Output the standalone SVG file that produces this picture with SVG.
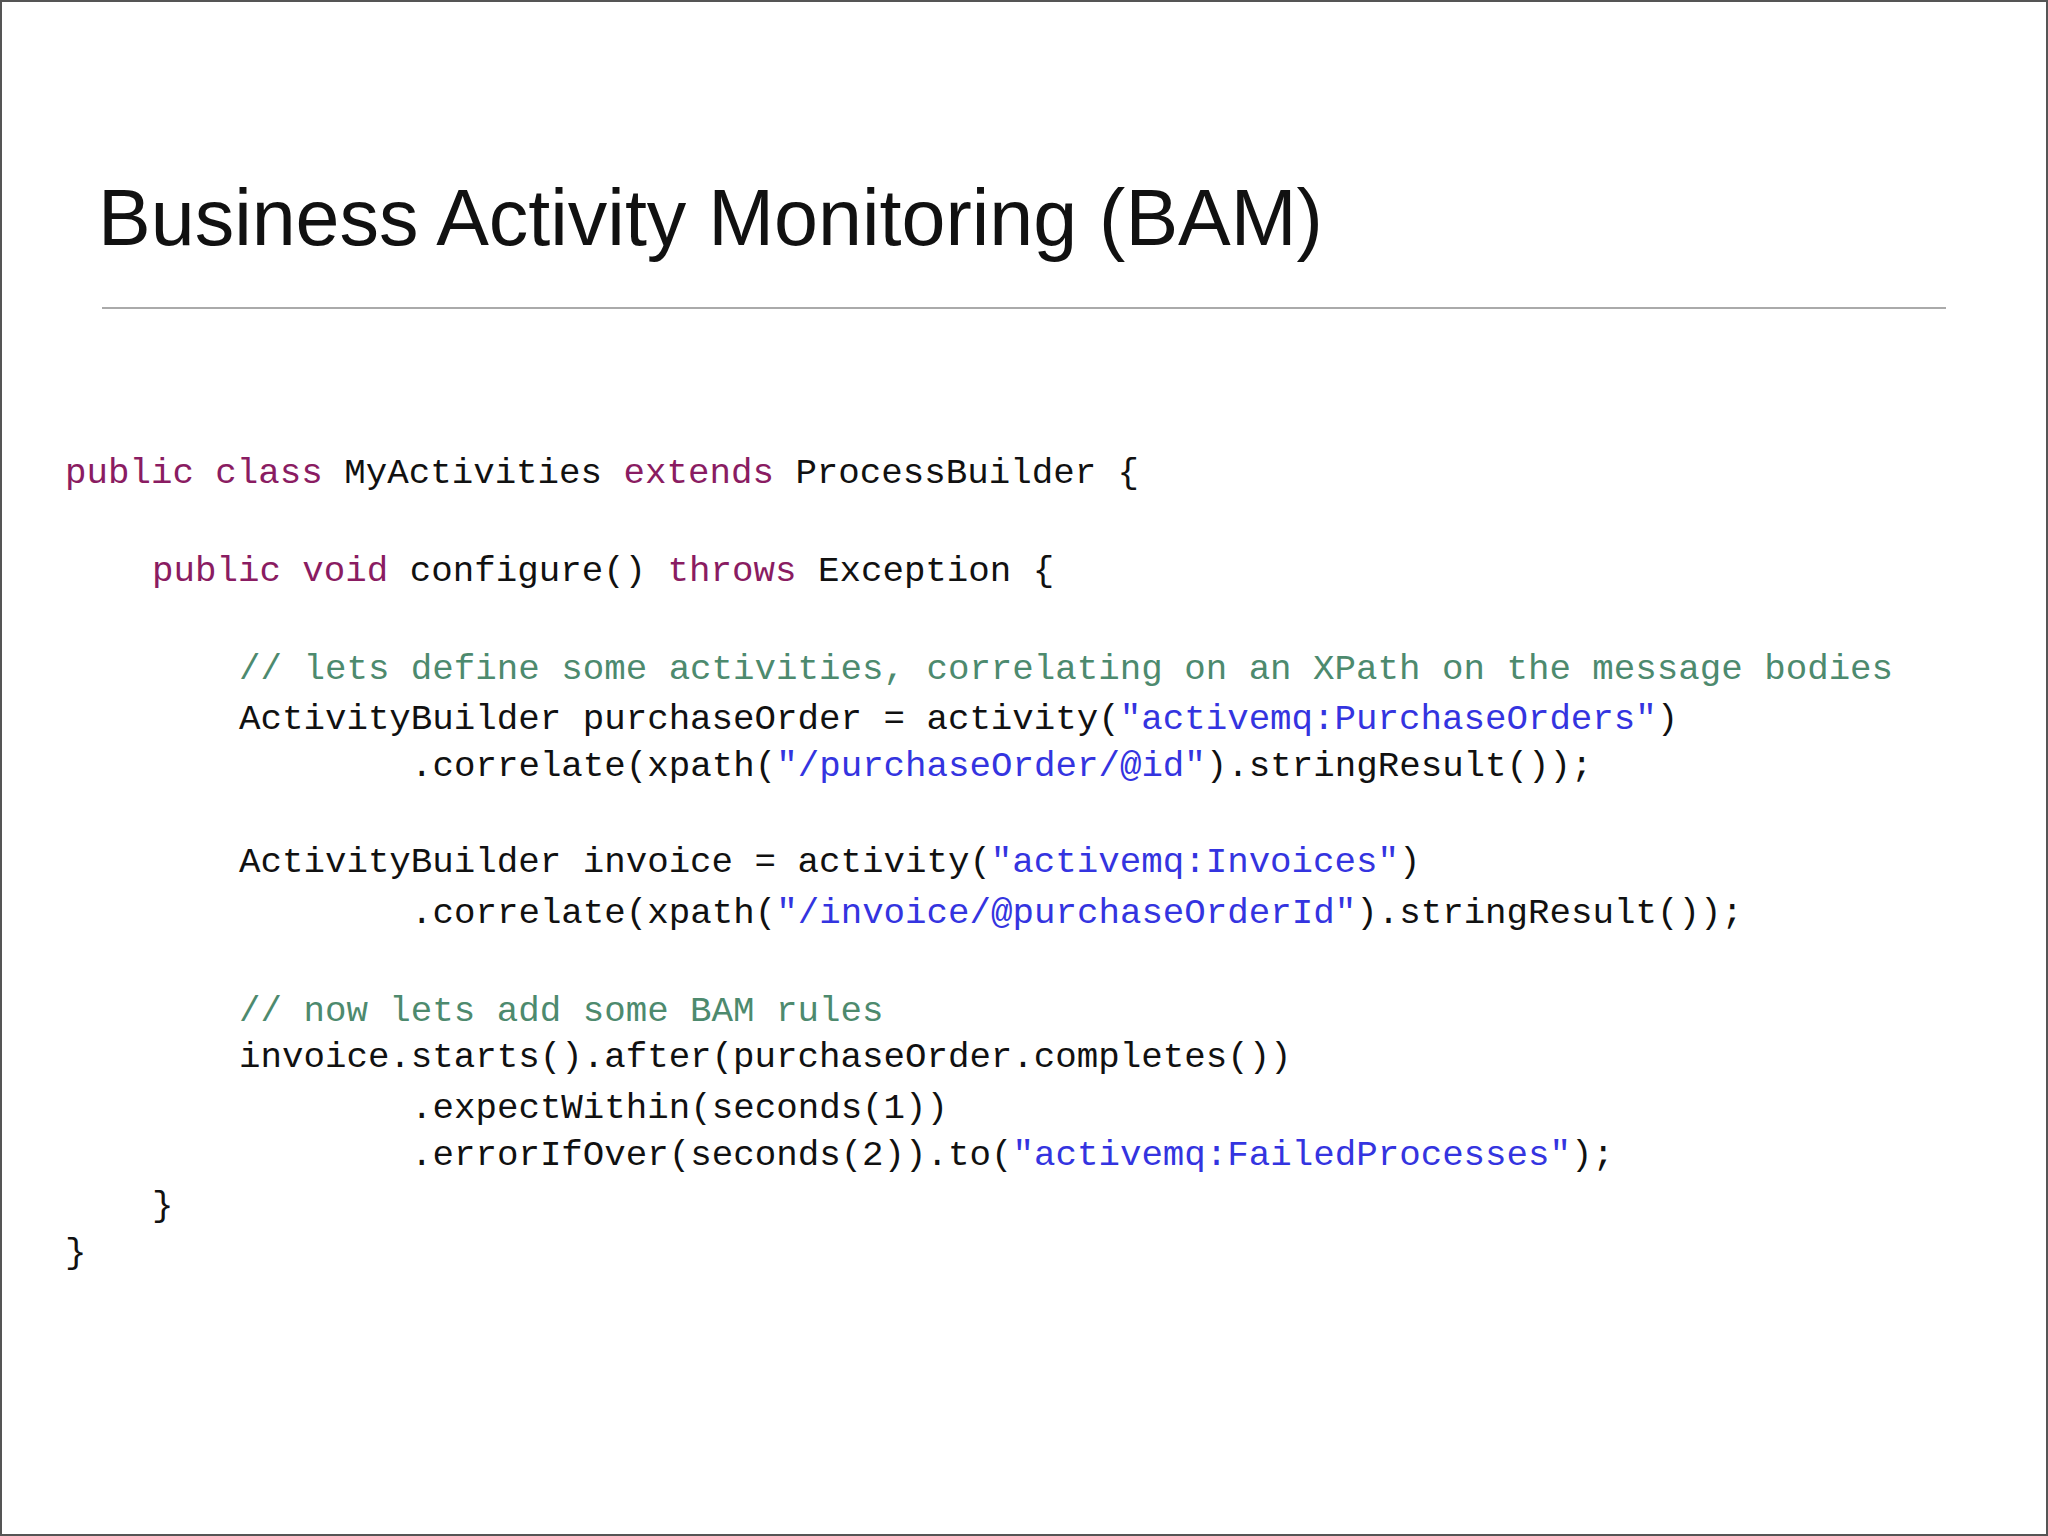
<svg xmlns="http://www.w3.org/2000/svg" width="2048" height="1536" viewBox="0 0 2048 1536">
<style>
.c{font-family:"Liberation Mono","DejaVu Sans Mono",monospace;font-size:35.8px;fill:#111;white-space:pre}
.k{fill:#8a1c62}.m{fill:#4d8a6e}.s{fill:#3434e0}
</style>
<rect x="1" y="1" width="2046" height="1534" fill="#fff" stroke="#555" stroke-width="2"/>
<text x="98" y="245" font-family="Helvetica,'Liberation Sans',Arial,sans-serif" font-size="79" fill="#111">Business Activity Monitoring (BAM)</text>
<line x1="102" y1="308" x2="1946" y2="308" stroke="#aaa" stroke-width="2"/>
<g id="code">
<text class="c" x="65" y="483"><tspan class="k">public class</tspan> MyActivities <tspan class="k">extends</tspan> ProcessBuilder {</text>
<text class="c" x="152" y="581"><tspan class="k">public void</tspan> configure() <tspan class="k">throws</tspan> Exception {</text>
<text class="c m" x="239" y="679">// lets define some activities, correlating on an XPath on the message bodies</text>
<text class="c" x="239" y="729">ActivityBuilder purchaseOrder = activity(<tspan class="s">"activemq:PurchaseOrders"</tspan>)</text>
<text class="c" x="411" y="776">.correlate(xpath(<tspan class="s">"/purchaseOrder/@id"</tspan>).stringResult());</text>
<text class="c" x="239" y="872">ActivityBuilder invoice = activity(<tspan class="s">"activemq:Invoices"</tspan>)</text>
<text class="c" x="411" y="923">.correlate(xpath(<tspan class="s">"/invoice/@purchaseOrderId"</tspan>).stringResult());</text>
<text class="c m" x="239" y="1021">// now lets add some BAM rules</text>
<text class="c" x="239" y="1067">invoice.starts().after(purchaseOrder.completes())</text>
<text class="c" x="411" y="1118">.expectWithin(seconds(1))</text>
<text class="c" x="411" y="1165">.errorIfOver(seconds(2)).to(<tspan class="s">"activemq:FailedProcesses"</tspan>);</text>
<text class="c" x="152" y="1216">}</text>
<text class="c" x="65" y="1263">}</text>
</g>
</svg>
